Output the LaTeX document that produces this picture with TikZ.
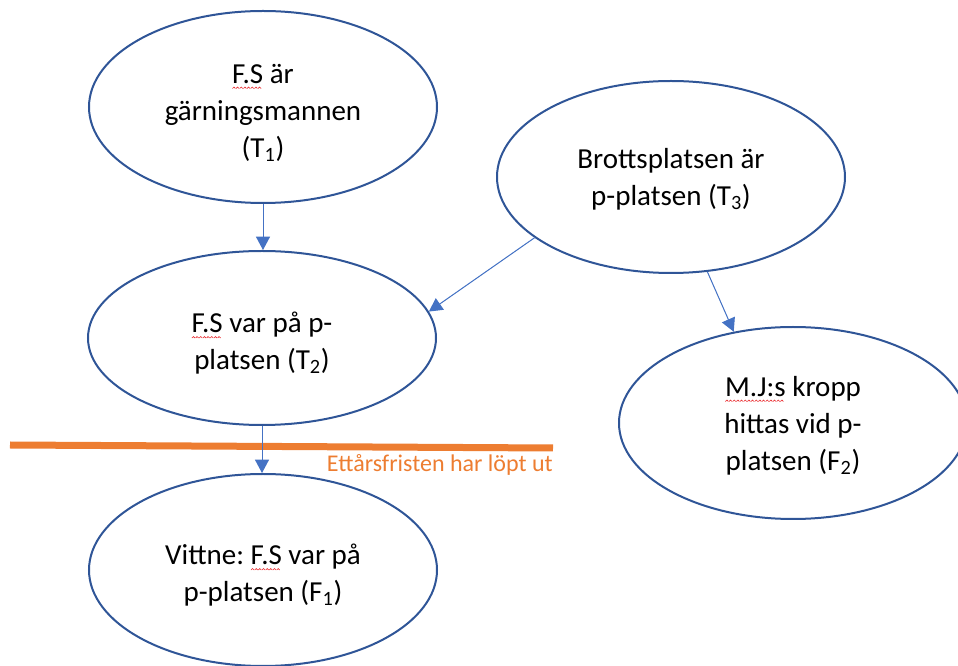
\documentclass[tikz,border=0pt]{standalone}
\usepackage{fontspec}
\setmainfont{Carlito}
\usetikzlibrary{arrows.meta,shapes.geometric}

\definecolor{ovalblue}{HTML}{2F5597}
\definecolor{linkblue}{HTML}{4472C4}
\definecolor{deadline}{HTML}{ED7D31}
\definecolor{spellred}{HTML}{E8262A}

% one period of the red spell-check wave
\newcommand\wavepiece{\tikz[baseline=0pt]\draw[spellred,line width=0.45pt,x=1pt,y=1pt] (0,0) -- (1.15,1.1) -- (2.3,0);}
% word with a red wavy underline
\newcommand\spellmark[1]{\setbox0=\hbox{#1}\rlap{\raisebox{-3.9pt}[0pt][0pt]{\hbox to\wd0{\leaders\hbox{\wavepiece}\hfill}}}\box0\relax}
% invisible struts that set the text block's top and bottom
\newcommand\topgap[1][26pt]{\rule{0pt}{#1}}
\newcommand\botgap{\rule[-6pt]{0pt}{6pt}}

\frenchspacing
\begin{document}
\begin{tikzpicture}[x=0.75pt,y=-0.75pt,
  oval/.style={ellipse,draw=ovalblue,line width=1.5pt,inner sep=0pt,
    minimum width=261pt,minimum height=144pt,align=center,
    font=\fontsize{21.75}{27.75}\selectfont},
  link/.style={draw=linkblue,line width=0.75pt,
    -{Triangle[length=10pt,width=10.5pt]},fill=linkblue},
  cutline/.style={draw=deadline,line width=5.25pt},
  cutlabel/.style={text=deadline,inner sep=0pt,font=\fontsize{18}{22}\selectfont}]
\useasboundingbox (0,0) rectangle (958,666);

% hypotheses and facts
\node[oval] (t1) at (263,107) {\topgap\spellmark{F.S} är\\gärningsmannen\\(T\textsubscript{1})\botgap};
\node[oval,minimum height=130.5pt] (t2) at (262,338) {\topgap\spellmark{F.S} var på p-\\platsen (T\textsubscript{2})\botgap};
\node[oval] (t3) at (671,177) {\topgap[21.5pt]Brottsplatsen är\\p-platsen (T\textsubscript{3})\botgap};
\node[oval] (f1) at (263,570) {\topgap Vittne: \spellmark{F.S} var på\\p-platsen (F\textsubscript{1})\botgap};
\node[oval] (f2) at (793,423) {\topgap[21.5pt]\spellmark{M.J:s} kropp\\hittas vid p-\\platsen (F\textsubscript{2})\botgap};

% one-year time limit
\coordinate (cutL) at (10,445);
\coordinate (cutR) at (553,448);
\draw[cutline] (cutL) -- (cutR);
\node[cutlabel,anchor=base east] (cuttext) at (553,472) {Ettårsfristen har löpt ut};

% inference links
\draw[link] (t1.south) -- (t1.south |- t2.north);
\draw[link] (t2.south) -- (t2.south |- f1.north);
\draw[link] (t3.204) -- (t2.9);
\draw[link] (t3.291) -- (f2.123);
\end{tikzpicture}
\end{document}
